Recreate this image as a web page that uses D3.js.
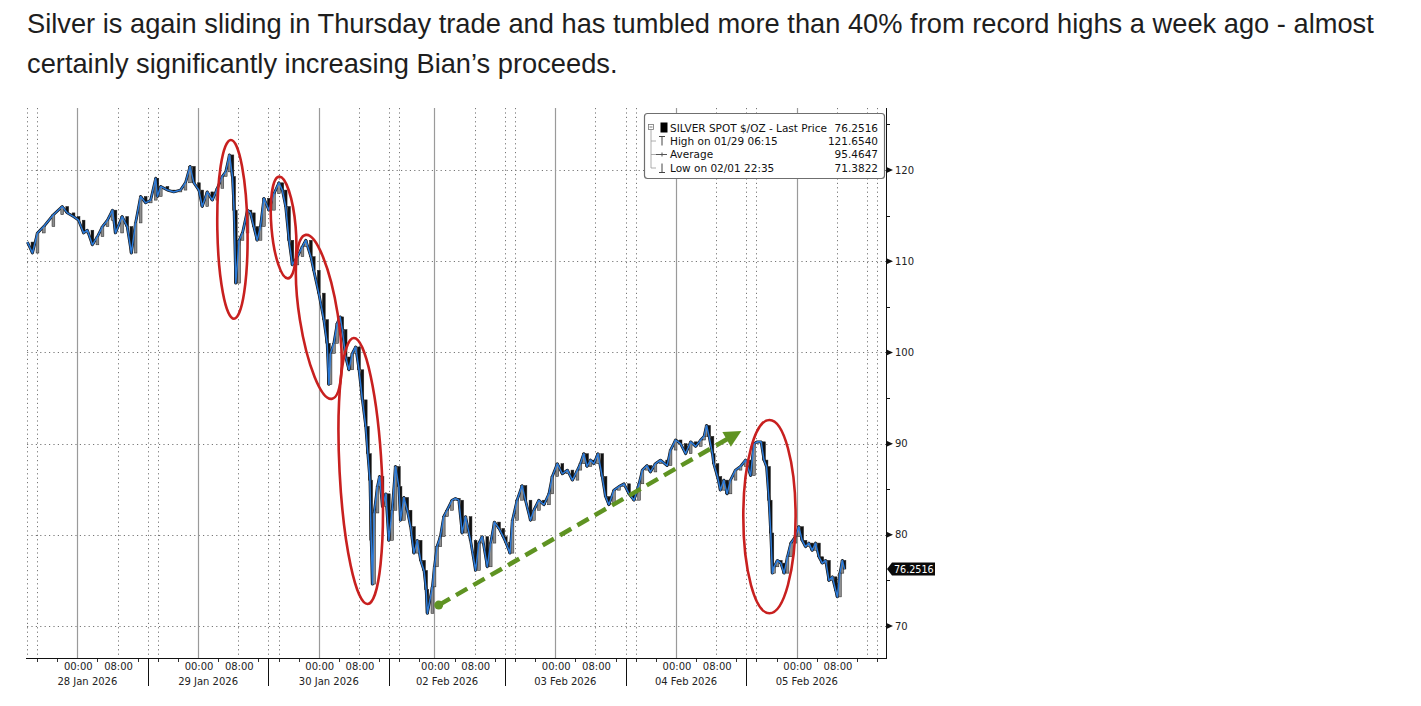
<!DOCTYPE html>
<html><head><meta charset="utf-8">
<script src="https://cdn.jsdelivr.net/npm/d3@7"></script>
<style>
body{margin:0;background:#fff;}
svg{display:block;}
</style></head>
<body>
<svg id="c" width="1421" height="706"></svg>
<script>
// ---------------- DATA ----------------
const headline = [
  "Silver is again sliding in Thursday trade and has tumbled more than 40% from record highs a week ago - almost",
  "certainly significantly increasing Bian\u2019s proceeds."
];
const times = [
 "01/27 14:05","01/27 15:05","01/27 16:05","01/27 17:20","01/27 19:15","01/27 21:00","01/27 22:00","01/27 23:15",
 "01/28 00:15","01/28 01:15","01/28 02:00","01/28 03:00","01/28 04:00","01/28 05:00","01/28 06:00","01/28 07:00",
 "01/28 07:35","01/28 08:55","01/28 09:55","01/28 10:45","01/28 11:35","01/28 12:35","01/28 13:35","01/28 14:35",
 "01/28 15:35","01/28 15:55","01/28 16:35","01/28 17:55","01/28 19:10","01/28 20:30","01/28 21:30","01/28 22:25",
 "01/28 23:10","01/29 00:10","01/29 00:50","01/29 01:50","01/29 02:50","01/29 03:50","01/29 04:50","01/29 05:30",
 "01/29 06:15","01/29 06:50","01/29 07:10","01/29 07:30","01/29 08:10","01/29 08:50","01/29 09:50","01/29 10:25",
 "01/29 11:05","01/29 11:45","01/29 12:25","01/29 13:05","01/29 14:05","01/29 15:05","01/29 16:05","01/29 16:45",
 "01/29 17:25","01/29 18:05","01/29 18:45","01/29 19:45","01/29 20:45","01/29 21:25","01/29 22:25","01/29 23:00",
 "01/30 00:00","01/30 01:00","01/30 01:40","01/30 02:00","01/30 02:20","01/30 03:00","01/30 03:40","01/30 04:15",
 "01/30 04:40","01/30 05:20","01/30 06:00","01/30 06:40","01/30 07:20","01/30 08:00","01/30 08:40","01/30 09:20",
 "01/30 09:45","01/30 10:10","01/30 10:25","01/30 10:40","01/30 11:00","01/30 11:40","01/30 12:05","01/30 12:40",
 "01/30 13:20","01/30 13:55","01/30 14:35","01/30 15:15","01/30 15:55","01/30 16:15","01/30 16:55","01/30 17:35",
 "01/30 18:15","01/30 18:55","01/30 19:35","01/30 20:15","01/30 20:55",
 "02/01 22:20","02/01 22:35","02/01 23:35","02/02 00:00","02/02 00:30","02/02 01:10","02/02 01:50","02/02 02:30",
 "02/02 03:30","02/02 04:10","02/02 04:50","02/02 05:30","02/02 06:10","02/02 07:10","02/02 08:10","02/02 08:50",
 "02/02 09:30","02/02 10:30","02/02 11:10","02/02 11:55","02/02 12:50","02/02 13:40","02/02 14:10","02/02 15:00",
 "02/02 15:30","02/02 16:25","02/02 17:25","02/02 18:05","02/02 19:05","02/02 19:45","02/02 20:45","02/02 21:45",
 "02/02 22:45","02/02 23:25","02/03 00:25","02/03 01:25","02/03 02:25","02/03 03:25","02/03 04:25","02/03 05:00",
 "02/03 05:40","02/03 06:20","02/03 07:00","02/03 07:40","02/03 08:30","02/03 09:20","02/03 10:00","02/03 10:40",
 "02/03 11:40","02/03 12:40","02/03 13:40","02/03 14:40","02/03 15:40","02/03 16:40","02/03 17:20","02/03 18:15",
 "02/03 18:55","02/03 19:55","02/03 20:55","02/03 22:15","02/03 22:55","02/03 23:55","02/04 00:55","02/04 01:55",
 "02/04 02:55","02/04 03:55","02/04 04:55","02/04 05:35","02/04 06:05","02/04 06:35","02/04 07:15","02/04 07:30",
 "02/04 08:15","02/04 08:50","02/04 09:30","02/04 10:10","02/04 10:50","02/04 11:50","02/04 12:50","02/04 13:50",
 "02/04 14:50","02/04 15:30","02/04 16:10","02/04 16:55","02/04 17:30","02/04 18:00","02/04 18:30","02/04 18:50",
 "02/04 19:10","02/04 19:30","02/04 20:10","02/04 20:50","02/04 21:30","02/04 22:10","02/04 22:50","02/04 23:45",
 "02/05 00:25","02/05 01:05","02/05 01:45","02/05 02:25","02/05 03:05","02/05 03:45","02/05 04:25","02/05 05:05",
 "02/05 05:45","02/05 06:25","02/05 07:05","02/05 07:45","02/05 08:05","02/05 08:35","02/05 09:05","02/05 09:30"
];
const prices = [
 112.1,110.9,113.1,113.8,115.1,116.0,115.3,114.9,
 114.5,113.1,113.4,111.8,112.7,113.8,114.5,115.6,
 113.1,114.9,113.8,110.9,114.2,117.1,116.4,116.7,
 119.1,117.1,118.2,117.8,117.6,117.8,118.6,120.4,
 118.6,117.8,116.0,117.6,116.7,118.0,119.3,119.8,
 121.654,119.3,115.6,107.6,112.3,113.1,115.6,115.3,
 113.8,112.3,113.8,116.9,115.6,117.4,118.6,117.8,
 116.0,112.3,109.6,110.5,111.6,112.3,110.5,109.0,
 106.5,103.6,101.0,96.5,99.9,101.0,103.2,103.9,
 102.5,99.5,98.1,99.9,100.6,98.1,94.8,91.9,
 88.9,86.0,79.4,74.6,82.4,85.3,86.4,83.1,
 84.5,79.4,82.7,87.5,85.3,81.6,84.1,82.7,
 80.9,78.0,79.4,77.2,76.1,
 74.0,71.382,74.3,76.5,78.7,79.8,82.0,82.7,
 83.8,84.0,83.8,80.2,82.0,79.4,76.1,79.1,
 79.8,76.5,79.1,81.4,80.7,79.8,79.2,78.0,
 81.6,83.8,85.4,83.8,81.6,82.7,83.8,83.3,
 84.5,86.4,87.8,86.7,87.1,86.0,87.1,87.8,
 88.9,87.5,88.2,87.8,88.9,86.4,84.2,83.3,
 84.9,85.3,85.6,84.5,83.8,85.6,87.1,87.6,
 86.9,87.8,88.2,87.6,89.3,90.4,90.0,88.9,
 90.2,89.7,90.4,90.8,92.0,90.8,88.9,87.8,
 86.4,84.9,86.0,84.5,86.0,87.1,87.5,88.2,
 86.5,90.0,90.2,90.2,88.2,87.5,83.8,80.2,
 75.8,76.5,77.2,76.9,75.8,77.6,79.1,79.8,
 80.9,79.4,78.7,79.1,78.3,79.1,77.6,76.9,
 77.2,75.0,75.4,73.9,73.2,75.8,77.2,76.2516
];
// axis start, Friday close, Sunday reopen, axis end (weekend is compressed)
const sessionBreaks = ["01/27 14:00","01/30 21:00","02/01 22:00","02/05 17:45"];
const sectionStarts = ["01/27 14:00","01/28 14:00","01/29 14:00","01/30 14:00","02/02 14:00","02/03 14:00","02/04 14:00","02/05 14:00"];
const sectionLabels = ["28 Jan 2026","29 Jan 2026","30 Jan 2026","02 Feb 2026","03 Feb 2026","04 Feb 2026","05 Feb 2026"];
const sectionDays = ["01/28","01/29","01/30","02/02","02/03","02/04","02/05"];
const timeTickLabels = ["00:00","08:00"];
const yTicks = [70,80,90,100,110,120];
const yMinorTicks = [75,85,95,105,115,125];
const legendLabels = ["SILVER SPOT $/OZ - Last Price","High on 01/29 06:15","Average","Low on 02/01 22:35"];
const legendValues = ["76.2516","121.6540","95.4647","71.3822"];
const lastPrice = 76.2516;
// annotation ellipses: centre time, centre price, half-width (hours), half-height (price), tilt (deg)
const ellTimes  = ["01/29 06:50","01/29 17:00","01/30 00:00","01/30 08:20","02/04 18:35"];
const ellPrices = [113.5,113.7,103.9,87.0,82.0];
const ellHalfHours = [3.0,2.4,3.8,4.2,5.2];
const ellHalfPrice = [9.8,5.6,9.1,14.6,10.6];
const ellTilt = [-1,-5,-9,-3,0];
// green trend arrow
const arrowTimes = ["02/02 00:50","02/04 13:00"];
const arrowPrices = [72.3,91.4];

// ---------------- CHART ----------------
const parse = d3.timeParse("%Y/%m/%d %H:%M");
const T = s => parse("2026/" + s);
const svg = d3.select("#c");
const pL = 27, pR = 886, pT = 108, pB = 658;

const bd = sessionBreaks.map(T);
const h1 = (bd[1]-bd[0])/36e5, h2 = (bd[3]-bd[2])/36e5;
const pph = (pR-pL)/(h1+h2);
const x = d3.scaleTime().domain(bd).range([pL, pL+h1*pph, pL+h1*pph, pR]);
const y = d3.scaleLinear().domain([66.5,126.8]).range([pB, pT]);
const trading = d => d >= bd[0] && d <= bd[3] && !(d > bd[1] && d < bd[2]);

// headline
const hl = svg.append("g").attr("font-family","'Liberation Sans', Arial, sans-serif").attr("fill","#1e1e1e");
const t1 = hl.append("text").attr("x",27).attr("y",33).attr("font-size",24).text(headline[0]);
const fs = 24 * 1348 / t1.node().getComputedTextLength();
t1.attr("font-size", fs);
hl.append("text").attr("x",27).attr("y",73).attr("font-size",fs).text(headline[1]);

// grid
const grid = svg.append("g");
yTicks.forEach(v => grid.append("line").attr("x1",pL).attr("x2",pR).attr("y1",Math.round(y(v))+0.5).attr("y2",Math.round(y(v))+0.5)
  .attr("stroke","#777").attr("stroke-width",1).attr("stroke-dasharray","1.2,3.2"));
const hours = d3.timeHour.range(bd[0], new Date(+bd[3]+1)).filter(trading);
hours.forEach(d => {
  const h = d.getHours();
  const xx = Math.round(x(d))+0.5;
  if (h === 0) grid.append("line").attr("x1",xx).attr("x2",xx).attr("y1",pT).attr("y2",pB).attr("stroke","#9a9a9a").attr("stroke-width",1.2);
  else if (h === 8 || h === 14 || h === 16) grid.append("line").attr("x1",xx).attr("x2",xx).attr("y1",pT).attr("y2",pB)
     .attr("stroke","#777").attr("stroke-width",1).attr("stroke-dasharray","1.2,3.2");
});

// axes
const ax = svg.append("g").attr("font-family","'DejaVu Sans', Verdana, sans-serif").attr("fill","#222");
ax.append("line").attr("x1",pL-1).attr("x2",pR+1).attr("y1",pB+0.5).attr("y2",pB+0.5).attr("stroke","#111");
ax.append("line").attr("x1",pR+0.5).attr("x2",pR+0.5).attr("y1",pT).attr("y2",pB+1).attr("stroke","#111");
hours.forEach(d => {
  const h = d.getHours();
  if ([4,12,16,20].includes(h)) {
    const xx = Math.round(x(d))+0.5;
    ax.append("line").attr("x1",xx).attr("x2",xx).attr("y1",pB+1).attr("y2",pB+4).attr("stroke","#333");
  }
});
sectionStarts.slice(1,-1).forEach(s => {
  const xx = Math.round(x(T(s)))+0.5;
  ax.append("line").attr("x1",xx).attr("x2",xx).attr("y1",pB).attr("y2",pB+28).attr("stroke","#111");
});
sectionLabels.forEach((lab,i) => {
  const cx = (x(T(sectionStarts[i])) + x(T(sectionStarts[i+1])))/2;
  ax.append("text").attr("x",cx).attr("y",685).attr("text-anchor","middle").attr("font-size",10).text(lab);
  timeTickLabels.forEach(tl => {
    ax.append("text").attr("x",x(T(sectionDays[i]+" "+tl))+1).attr("y",670).attr("text-anchor","middle").attr("font-size",10).text(tl);
  });
});
yTicks.forEach(v => {
  const yy = y(v);
  ax.append("path").attr("d",`M${pR+0.5},${yy-3}L${pR+7},${yy}L${pR+0.5},${yy+3}Z`).attr("fill","#111");
  ax.append("text").attr("x",pR+9).attr("y",yy).attr("dy","0.36em").attr("font-size",10).text(v);
});
yMinorTicks.forEach(v => {
  const yy = Math.round(y(v))+0.5;
  ax.append("line").attr("x1",pR).attr("x2",pR+4).attr("y1",yy).attr("y2",yy).attr("stroke","#111");
});

// series
const data = times.map((s,i) => ({t:T(s), p:prices[i]}));
const plot = svg.append("g");
const line = d3.line().x(d=>x(d.t)).y(d=>y(d.p));
plot.append("path").datum(data).attr("d",line).attr("fill","none").attr("stroke","#151515").attr("stroke-width",2.8).attr("stroke-linejoin","round");
data.forEach((d,i) => {
  if (i === 0) return;
  const pv = data[i-1].p;
  const y0 = y(Math.max(pv,d.p)), y1 = y(Math.min(pv,d.p));
  plot.append("rect").attr("x",x(d.t)-1.4).attr("width",2.8).attr("y",y0).attr("height",Math.max(1,y1-y0))
    .attr("fill", d.p < pv ? "#111" : "#8d8d8d").attr("stroke","#222").attr("stroke-width",0.5);
});
plot.append("path").datum(data).attr("d",line).attr("fill","none").attr("stroke","#2b7ad8").attr("stroke-width",1.5).attr("stroke-linejoin","round");

// ellipses
const ann = svg.append("g");
ellTimes.forEach((s,i) => {
  const t = T(s);
  const cx = x(t), cy = y(ellPrices[i]);
  const rx = x(new Date(+t + ellHalfHours[i]*36e5)) - cx;
  const ry = y(ellPrices[i]-ellHalfPrice[i]) - cy;
  ann.append("ellipse").attr("cx",cx).attr("cy",cy).attr("rx",rx).attr("ry",ry)
    .attr("transform",`rotate(${ellTilt[i]},${cx},${cy})`)
    .attr("fill","none").attr("stroke","#c8201f").attr("stroke-width",2.6);
});
// arrow
{
  const x0 = x(T(arrowTimes[0])), y0 = y(arrowPrices[0]);
  const x1 = x(T(arrowTimes[1])), y1 = y(arrowPrices[1]);
  const L = Math.hypot(x1-x0,y1-y0), ux = (x1-x0)/L, uy = (y1-y0)/L;
  const green = "#5f9322";
  ann.append("line").attr("x1",x0).attr("y1",y0).attr("x2",x1-ux*12).attr("y2",y1-uy*12)
    .attr("stroke",green).attr("stroke-width",4.5).attr("stroke-dasharray","13,7");
  ann.append("circle").attr("cx",x0).attr("cy",y0).attr("r",4.5).attr("fill",green);
  const bx = x1-ux*17, by = y1-uy*17;
  ann.append("path").attr("d",`M${x1},${y1}L${bx-uy*8.5},${by+ux*8.5}L${bx+uy*8.5},${by-ux*8.5}Z`).attr("fill",green);
}

// last price tag
{
  const yy = y(lastPrice);
  const g = svg.append("g");
  g.append("path").attr("d",`M${pR+1},${yy}L${pR+6},${yy-6.5}L${pR+49},${yy-6.5}L${pR+49},${yy+6.5}L${pR+6},${yy+6.5}Z`).attr("fill","#0a0a0a");
  g.append("text").attr("x",pR+8).attr("y",yy).attr("dy","0.36em").attr("fill","#fff")
    .attr("font-family","'DejaVu Sans', Verdana, sans-serif").attr("font-size",9.6).text(d3.format(".4f")(lastPrice));
}

// legend
{
  const g = svg.append("g").attr("font-family","'DejaVu Sans', Verdana, sans-serif").attr("font-size",10.5).attr("fill","#111");
  g.append("rect").attr("x",644.5).attr("y",113.5).attr("width",240).attr("height",65).attr("rx",3)
    .attr("fill","#fff").attr("stroke","#6f6f6f").attr("stroke-width",1.2);
  const rows = [128,141,154.5,168];
  g.append("rect").attr("x",648.5).attr("y",124.5).attr("width",5).attr("height",5).attr("fill","#fff").attr("stroke","#777").attr("stroke-width",0.8);
  g.append("line").attr("x1",649.5).attr("x2",652.5).attr("y1",127).attr("y2",127).attr("stroke","#555").attr("stroke-width",0.8);
  g.append("line").attr("x1",651).attr("x2",651).attr("y1",129.5).attr("y2",rows[3]).attr("stroke","#999").attr("stroke-width",0.8);
  rows.slice(1).forEach(r => g.append("line").attr("x1",651).attr("x2",656).attr("y1",r).attr("y2",r).attr("stroke","#999").attr("stroke-width",0.8));
  g.append("rect").attr("x",660.5).attr("y",122.5).attr("width",7).attr("height",10).attr("fill","#000");
  g.append("path").attr("d",`M659,${rows[1]-4.5}H665M662,${rows[1]-4.5}V${rows[1]+4.5}`).attr("stroke","#444").attr("fill","none");
  g.append("path").attr("d",`M656,${rows[2]}H667M662,${rows[2]-2}V${rows[2]+2}`).attr("stroke","#555").attr("fill","none");
  g.append("path").attr("d",`M662,${rows[3]-4.5}V${rows[3]+4.5}M659,${rows[3]+4.5}H665`).attr("stroke","#444").attr("fill","none");
  legendLabels.forEach((lab,i) => {
    g.append("text").attr("x",670).attr("y",rows[i]).attr("dy","0.36em").text(lab);
    g.append("text").attr("x",878).attr("y",rows[i]).attr("dy","0.36em").attr("text-anchor","end").text(legendValues[i]);
  });
}
</script>
</body></html>
